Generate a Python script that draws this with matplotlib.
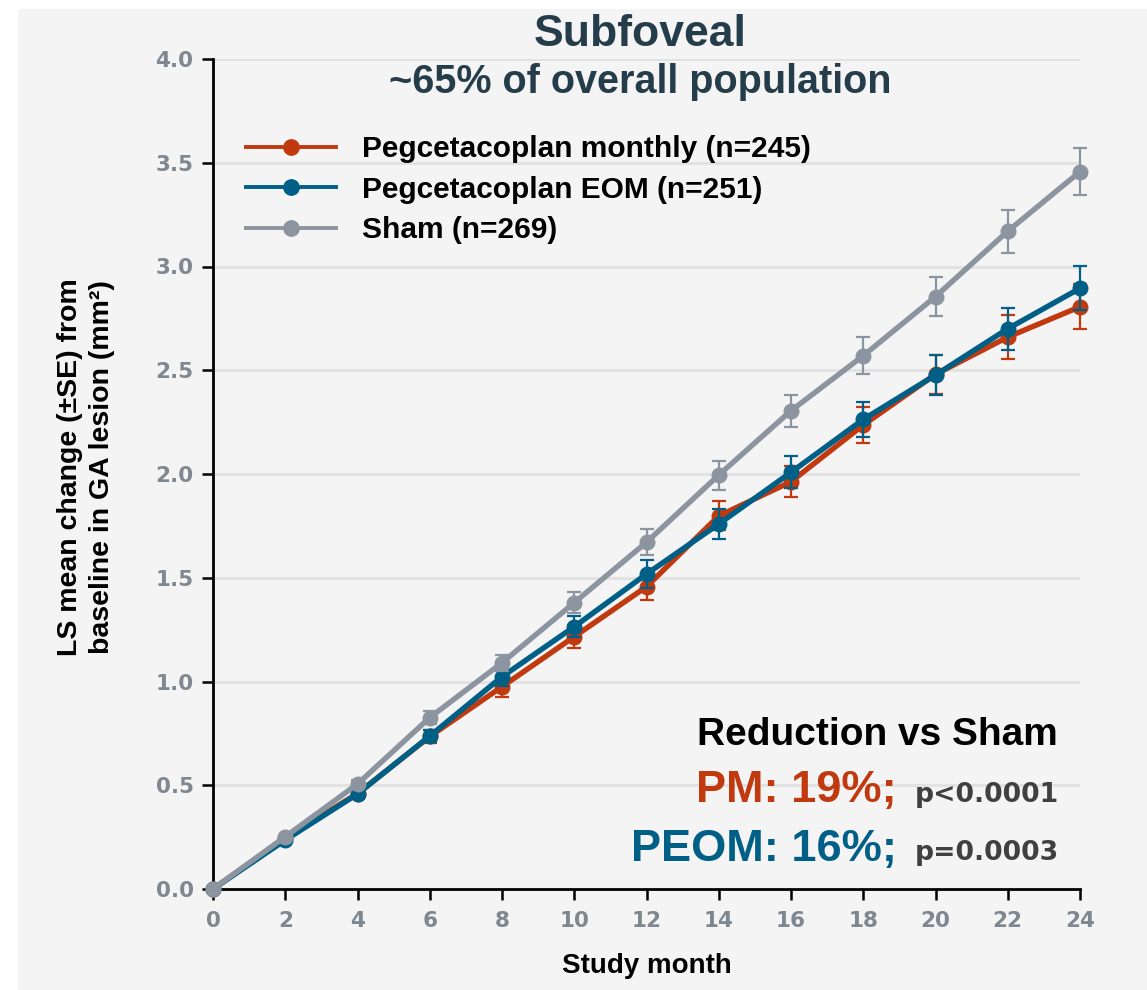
import matplotlib
matplotlib.use("Agg")
import matplotlib.pyplot as plt
from matplotlib.patches import Rectangle
from matplotlib.ticker import MultipleLocator, FormatStrFormatter

# ---------- datos ----------
months = [0, 2, 4, 6, 8, 10, 12, 14, 16, 18, 20, 22, 24]

pm_mean = [0, 0.245, 0.46, 0.735, 0.975, 1.216, 1.457, 1.798, 1.963, 2.236, 2.48, 2.66, 2.806]
pm_se = [0, 0.01, 0.02, 0.03, 0.05, 0.055, 0.064, 0.07, 0.075, 0.088, 0.095, 0.105, 0.109]

eom_mean = [0, 0.236, 0.458, 0.737, 1.023, 1.264, 1.518, 1.759, 2.008, 2.263, 2.477, 2.70, 2.895]
eom_se = [0, 0.01, 0.02, 0.03, 0.045, 0.05, 0.067, 0.07, 0.077, 0.085, 0.096, 0.102, 0.107]

sham_mean = [0, 0.252, 0.506, 0.826, 1.09, 1.38, 1.671, 1.995, 2.305, 2.57, 2.855, 3.17, 3.457]
sham_se = [0, 0.01, 0.02, 0.03, 0.04, 0.05, 0.063, 0.07, 0.078, 0.09, 0.092, 0.103, 0.112]

labels = ["Pegcetacoplan monthly (n=245)", "Pegcetacoplan EOM (n=251)", "Sham (n=269)"]

# ---------- colores ----------
C_PM = "#c0390f"
C_EOM = "#005f86"
C_SHAM = "#8c959f"
C_TICK = "#7f8790"
C_TITLE = "#253d4a"
C_PVAL = "#404040"
C_BG = "#f4f4f4"
C_GRID = "#e2e2e2"

SANS = ["Liberation Sans", "DejaVu Sans"]
WIDE = ["DejaVu Sans"]

W, H = 1147, 990
fig = plt.figure(figsize=(W / 100, H / 100), dpi=100, facecolor="white")
fig.patches.append(Rectangle((18 / W, 0), 1 - 18 / W, 1 - 9 / H, transform=fig.transFigure,
                             facecolor=C_BG, edgecolor="none", zorder=-10))

ax = fig.add_axes([213 / W, (H - 889) / H, (1080 - 213) / W, (889 - 59) / H])
ax.set_facecolor("none")

series = [
    (pm_mean, pm_se, C_PM, labels[0]),
    (eom_mean, eom_se, C_EOM, labels[1]),
    (sham_mean, sham_se, C_SHAM, labels[2]),
]
for i, (mean, se, col, lab) in enumerate(series):
    z = 3 + i
    ax.errorbar(months, mean, yerr=se, fmt="none", ecolor=col, elinewidth=1.6,
                capsize=4.8, capthick=1.6, zorder=z, clip_on=False)
    ax.plot(months, mean, color=col, linewidth=3.9, marker="o", markersize=11.5,
            markeredgewidth=0, label=lab, zorder=z, clip_on=False)

ax.set_xlim(0, 24)
ax.set_ylim(0, 4)
ax.xaxis.set_major_locator(MultipleLocator(2))
ax.yaxis.set_major_locator(MultipleLocator(0.5))
ax.yaxis.set_major_formatter(FormatStrFormatter("%.1f"))

for yv in [0.5, 1.0, 1.5, 2.0, 2.5, 3.0, 3.5, 4.0]:
    ax.axhline(yv, color=C_GRID, linewidth=2.2, zorder=0)

for s in ("top", "right"):
    ax.spines[s].set_visible(False)
for s in ("left", "bottom"):
    ax.spines[s].set_linewidth(2.0)
    ax.spines[s].set_color("black")
ax.tick_params(axis="both", direction="out", length=8, width=1.8, color="black",
               labelcolor=C_TICK, labelsize=15.5)
ax.tick_params(axis="x", pad=8)
ax.tick_params(axis="y", pad=6)
for t in ax.get_xticklabels() + ax.get_yticklabels():
    t.set_fontweight("bold")
    t.set_family(WIDE)

ax.set_xlabel("Study month", fontsize=20, fontweight="bold", family=SANS)
ax.xaxis.set_label_coords(0.5, -0.077)
ax.set_ylabel("LS mean change (\u00b1SE) from\nbaseline in GA lesion (mm\u00b2)", fontsize=20.5,
              fontweight="bold", family=SANS, linespacing=1.3)
ax.yaxis.set_label_coords(-0.113, 0.508)

# ---------- título ----------
fig.text(640 / W, 1 - 35 / H, "Subfoveal", ha="center", va="center", fontsize=32,
         fontweight="bold", color=C_TITLE, family=SANS)
fig.text(640 / W, 1 - 82 / H, "~65% of overall population", ha="center", va="center",
         fontsize=28.5, fontweight="bold", color=C_TITLE, family=SANS)

# ---------- leyenda ----------
leg = ax.legend(loc="upper left", bbox_to_anchor=(0.038, 0.908), frameon=False,
                prop={"family": SANS, "weight": "bold", "size": 21.5},
                borderpad=0, borderaxespad=0, handlelength=3.0, handletextpad=0.9,
                labelspacing=0.42, markerscale=1.05)
for ln in leg.get_lines():
    ln.set_linewidth(2.8)

# ---------- anotación ----------
fig.text(877 / W, 1 - 745 / H, "Reduction vs Sham", ha="center", va="baseline",
         fontsize=28, fontweight="bold", color="black", family=SANS)
fig.text(897 / W, 1 - 802 / H, "PM: 19%;", ha="right", va="baseline", fontsize=32.5,
         fontweight="bold", color=C_PM, family=SANS)
fig.text(915 / W, 1 - 802 / H, "p<0.0001", ha="left", va="baseline", fontsize=19.2,
         fontweight="bold", color=C_PVAL, family=WIDE)
fig.text(897 / W, 1 - 861 / H, "PEOM: 16%;", ha="right", va="baseline", fontsize=32.5,
         fontweight="bold", color=C_EOM, family=SANS)
fig.text(915 / W, 1 - 860 / H, "p=0.0003", ha="left", va="baseline", fontsize=19.2,
         fontweight="bold", color=C_PVAL, family=WIDE)

fig.savefig("out.png", dpi=100, facecolor="white")
